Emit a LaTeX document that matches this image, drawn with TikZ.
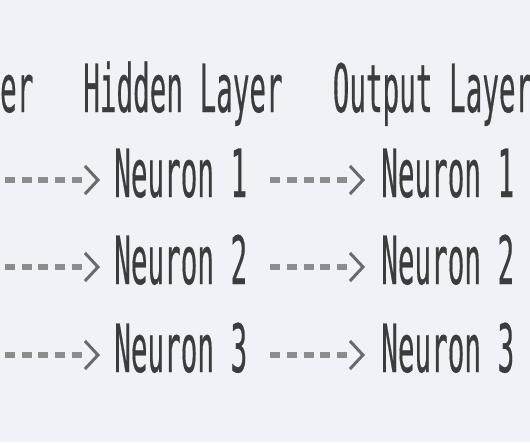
\documentclass[tikz,border=0pt]{standalone}
\usepackage{fontspec}
\newfontfamily\mymono{DejaVu Sans Mono}[RawFeature={embolden=0.6}]
\usetikzlibrary{arrows.meta}
\definecolor{bg}{HTML}{EFF3F8}
\definecolor{txt}{HTML}{3C3C3C}
\definecolor{dashc}{HTML}{8C8C8C}
\definecolor{tipc}{HTML}{6A6A6A}
\newcommand{\mytxt}[1]{\scalebox{1}[2.41]{\fontsize{27.6}{30}\selectfont\mymono #1}}
\begin{document}
\begin{tikzpicture}[x=1pt,y=-1pt,
  lbl/.style={anchor=base west, inner sep=0pt, outer sep=0pt, text=txt},
  conn/.style={draw=dashc, line width=6pt,
    dash pattern=on 10pt off 6.63pt on 10pt off 6.63pt on 10pt off 6.63pt on 10pt off 6.63pt on 10pt off 200pt,
    -{Straight Barb[length=13pt, width=28pt, line width=3pt, color=tipc]}}]
\useasboundingbox (0,0) rectangle (530,442);
\fill[bg] (0,0) rectangle (530,442);
\clip (0,0) rectangle (530,442);
\node[lbl] (h0) at (-16.5,112) {\mytxt{yer}};
\node[lbl] (h1) at (83.3,112) {\mytxt{Hidden Layer}};
\node[lbl] (h2) at (332.8,112) {\mytxt{Output Layer}};
\foreach \i/\y in {1/197,2/284,3/372}{
  \node[lbl] (a\i) at (114.3,\y) {\mytxt{Neuron \i}};
  \node[lbl] (b\i) at (381.3,\y) {\mytxt{Neuron \i}};
  \coordinate (in\i) at (5,{\y-17});
  \draw[conn, shorten >=14.3pt] (in\i) -- ([yshift=17pt]a\i.base west);
  \draw[conn, shorten <=23.2pt, shorten >=16.3pt] ([yshift=17pt]a\i.base east) -- ([yshift=17pt]b\i.base west);
}
\end{tikzpicture}
\end{document}
